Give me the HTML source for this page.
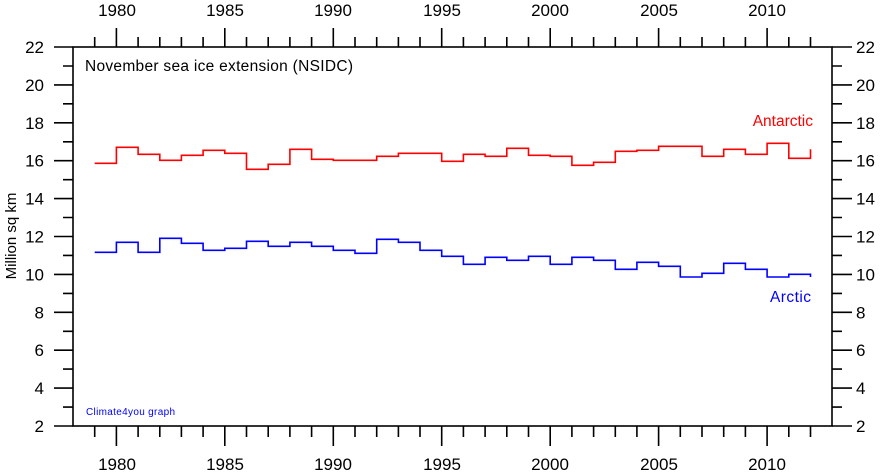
<!DOCTYPE html>
<html><head><meta charset="utf-8"><style>
html,body{margin:0;padding:0;background:#fff}
svg{display:block}
text{font-family:"Liberation Sans",Arial,sans-serif}
</style></head><body>
<svg id="s" width="880" height="474" viewBox="0 0 880 474" xmlns="http://www.w3.org/2000/svg">
<g id="ax" stroke="#000" stroke-width="1.6" fill="none"></g>
<rect x="73" y="47" width="759" height="379" fill="none" stroke="#000" stroke-width="1.6"/>
<path id="ant" fill="none" stroke="#ff0000" stroke-width="1.6"/>
<path id="arc" fill="none" stroke="#0000ff" stroke-width="1.6"/>
<g font-size="17" fill="#000">
<text x="117" y="16" text-anchor="middle">1980</text>
<text x="225" y="16" text-anchor="middle">1985</text>
<text x="333" y="16" text-anchor="middle">1990</text>
<text x="442" y="16" text-anchor="middle">1995</text>
<text x="550" y="16" text-anchor="middle">2000</text>
<text x="659" y="16" text-anchor="middle">2005</text>
<text x="767" y="16" text-anchor="middle">2010</text>
<text x="117" y="470" text-anchor="middle">1980</text>
<text x="225" y="470" text-anchor="middle">1985</text>
<text x="333" y="470" text-anchor="middle">1990</text>
<text x="442" y="470" text-anchor="middle">1995</text>
<text x="550" y="470" text-anchor="middle">2000</text>
<text x="659" y="470" text-anchor="middle">2005</text>
<text x="767" y="470" text-anchor="middle">2010</text>
</g>
<g id="yl" font-size="17" fill="#000"></g>
<text x="85" y="71" font-size="15.5" textLength="268" fill="#000">November sea ice extension (NSIDC)</text>
<text x="813" y="126" font-size="15.5" text-anchor="end" fill="#ff0000">Antarctic</text>
<text x="811" y="302" font-size="15.5" textLength="41" text-anchor="end" fill="#0000ff">Arctic</text>
<text x="86" y="415" font-size="10" textLength="89" fill="#0000ff">Climate4you graph</text>
<text transform="translate(16,236) rotate(-90)" font-size="15" text-anchor="middle" fill="#000">Million sq km</text>
</svg>
<script>
var X=function(y){return 73+(y-1978)*21.69};
var Y=function(v){return 47+(22-v)*18.95};
var ax=document.getElementById('ax'),d='';
for(var yr=1979;yr<2013;yr++){var x=X(yr).toFixed(1);var maj=(yr%5==0);
 d+='M'+x+' 47V'+(maj?28:37)+'M'+x+' 426V'+(maj?446:437);}
for(var v=2;v<=22;v++){var y=Y(v).toFixed(1);var maj=(v%2==0);
 d+='M73 '+y+'H'+(maj?54:63)+'M832 '+y+'H'+(maj?852:842);}
var p=document.createElementNS('http://www.w3.org/2000/svg','path');p.setAttribute('d',d);ax.appendChild(p);
var yl=document.getElementById('yl');
for(var v=2;v<=22;v+=2){var y=Y(v)+6;
 yl.innerHTML+='<text x="44" y="'+y+'" text-anchor="end">'+v+'</text><text x="856" y="'+y+'">'+v+'</text>';}
function step(a,end){var s='M'+X(1979).toFixed(1)+' '+a[0];
 for(var k=0;k<a.length;k++){s+='H'+X(1980+k).toFixed(1);if(k+1<a.length)s+='V'+a[k+1];}
 s+='V'+end;return s;}
var ant=[163.3,147.3,154.3,160.3,155.3,150.3,153.3,169.3,164.3,149.3,159.3,160.3,160.3,156.3,153.3,153.3,161.3,154.3,156.3,148.3,155.3,156.3,165.3,162.3,151.3,150.3,146.3,146.3,156.3,149.3,154.3,143.3,158.3];
var arc=[252.3,242.3,252.3,238.3,243.3,250.3,248.3,241.3,246.3,242.3,246.3,250.3,253.3,239.3,242.3,250.3,256.3,264.3,257.3,260.3,256.3,264.3,257.3,260.3,269.3,262.3,266.3,277,273.3,263.3,269.3,277,274.3];
document.getElementById('ant').setAttribute('d',step(ant,149.3));
document.getElementById('arc').setAttribute('d',step(arc,277));
</script>
</body></html>
